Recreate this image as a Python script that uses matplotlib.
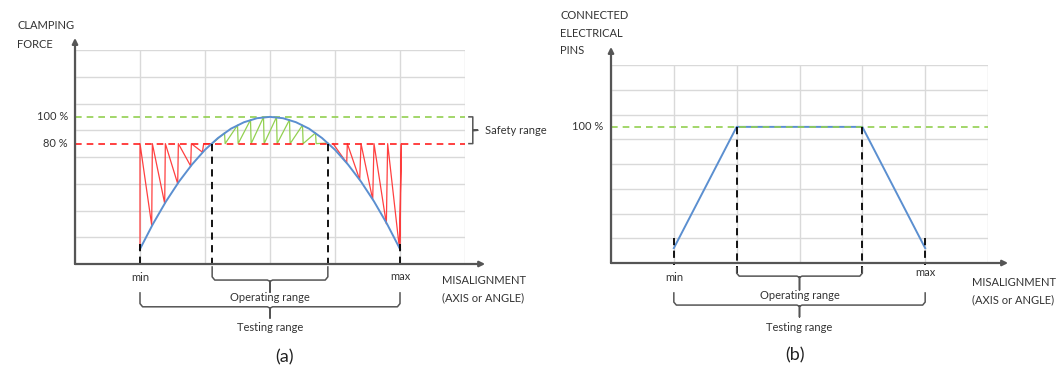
import numpy as np
import matplotlib
matplotlib.use("Agg")
import matplotlib.pyplot as plt

plt.rcParams["font.family"] = ["Lato", "DejaVu Sans"]

TXT = "#333333"
AX = "#555555"
GRID = "#d9d9d9"
BLUE = "#5b8fd0"
RED = "#ff2b2b"
GREEN = "#92d050"
FS = 8

# ---- panel (a): clamping force vs misalignment ----
curve_x = [1.0, 1.2, 1.4, 1.6, 1.8, 2.0, 2.2, 2.4, 2.6, 2.8, 3.0,
           3.2, 3.4, 3.6, 3.8, 4.0, 4.2, 4.4, 4.6, 4.8, 5.0]
curve_y = [0.56, 1.50, 2.34, 3.08, 3.72, 4.27, 4.71, 5.06, 5.30, 5.45, 5.50,
           5.45, 5.30, 5.06, 4.71, 4.27, 3.72, 3.08, 2.34, 1.50, 0.56]

red_left_x = [1.0, 1.0, 1.18, 1.19, 1.38, 1.39, 1.58, 1.59, 1.78, 1.79, 1.96, 1.98, 2.11]
red_left_y = [0.56, 4.5, 1.45, 4.5, 2.26, 4.5, 3.0, 4.5, 3.66, 4.5, 4.18, 4.5, 4.5]
red_right_x = [3.97, 4.18, 4.19, 4.38, 4.40, 4.58, 4.60, 4.79, 4.81, 4.99, 5.02, 5.0]
red_right_y = [4.5, 3.78, 4.5, 3.15, 4.5, 2.41, 4.5, 1.5, 4.5, 0.6, 4.5, 0.56]

green_x = [2.11, 2.3, 2.31, 2.5, 2.51, 2.7, 2.71, 2.9, 2.91, 3.1, 3.11, 3.3, 3.31,
           3.5, 3.51, 3.7, 3.71, 3.89]
green_y = [4.5, 4.9, 4.5, 5.19, 4.5, 5.39, 4.5, 5.49, 4.5, 5.49, 4.5, 5.39, 4.5,
           5.19, 4.5, 4.9, 4.5, 4.52]

level_100 = 5.5
level_80 = 4.5
a_min, a_max = 1.0, 5.0
a_op = (2.11, 3.89)

# ---- panel (b): connected electrical pins ----
pins_x = [1.0, 2.0, 4.0, 5.0]
pins_y = [0.6, 5.5, 5.5, 0.6]
b_min, b_max = 1.0, 5.0
b_op = (2.0, 4.0)

fig = plt.figure(figsize=(10.62, 3.69), dpi=100)
axa = fig.add_axes([75 / 1062, 105 / 369, 390 / 1062, 214 / 369])
axb = fig.add_axes([611 / 1062, 106 / 369, 377 / 1062, 198 / 369])


def base(ax):
    ax.set_xlim(0, 6)
    ax.set_ylim(0, 8)
    ax.set_xticks(range(7))
    ax.set_yticks(range(9))
    ax.tick_params(length=0, labelbottom=False, labelleft=False)
    ax.grid(True, color=GRID, lw=1.0)
    for s in ax.spines.values():
        s.set_visible(False)
    ax.set_axisbelow(True)


def arrows(ax, xend, yend):
    ax.annotate("", xy=(xend, 0), xytext=(0, 0), annotation_clip=False,
                arrowprops=dict(arrowstyle="-|>", color=AX, lw=1.6,
                                mutation_scale=8, shrinkA=0, shrinkB=0))
    ax.annotate("", xy=(0, yend), xytext=(0, 0), annotation_clip=False,
                arrowprops=dict(arrowstyle="-|>", color=AX, lw=1.6,
                                mutation_scale=8, shrinkA=0, shrinkB=0))


def brace(ax, x1, x2, y0, y1, y2, r=0.04):
    xm = (x1 + x2) / 2
    ax.plot([x1, x1, x1 + r, xm - r, xm, xm, xm, xm + r, x2 - r, x2, x2],
            [y0, y1 + 0.12, y1, y1, y1 - 0.05, y2, y1 - 0.05, y1, y1, y1 + 0.12, y0],
            color=AX, lw=1.1, clip_on=False, solid_joinstyle="round")


def vdash(ax, x, y_top, y_bot):
    ax.plot([x, x], [y_top, y_bot], color="black", lw=1.3, ls=(0, (4, 3)), clip_on=False)


# panel (a)
base(axa)
axa.plot(red_left_x, red_left_y, color=RED, lw=0.9, alpha=0.9)
axa.plot(red_right_x, red_right_y, color=RED, lw=0.9, alpha=0.9)
axa.plot(green_x, green_y, color=GREEN, lw=0.9)
axa.plot([0, 6], [level_100, level_100], color=GREEN, lw=1.2, ls=(0, (4, 3)))
axa.plot([0, 6], [level_80, level_80], color="#ff2020", lw=1.2, ls=(0, (4, 3)))
axa.plot(curve_x, curve_y, color=BLUE, lw=1.4)
for x in a_op:
    vdash(axa, x, level_80, -0.11)
for x in (a_min, a_max):
    vdash(axa, x, 0.75, -0.1)
arrows(axa, 6.31, 8.45)

axa.text(-0.11, level_100, "100 %", ha="right", va="center", fontsize=FS, color=TXT)
axa.text(-0.11, level_80, "80 %", ha="right", va="center", fontsize=FS, color=TXT)
axa.text(-0.89, 8.9, "CLAMPING", ha="left", va="center", fontsize=FS, color=TXT)
axa.text(-0.89, 8.22, "FORCE", ha="left", va="center", fontsize=FS, color=TXT)
axa.text(a_min, -0.49, "min", ha="center", va="center", fontsize=FS, color=TXT)
axa.text(a_max, -0.45, "max", ha="center", va="center", fontsize=FS, color=TXT)
axa.text(5.65, -0.6, "MISALIGNMENT", ha="left", va="center", fontsize=FS, color=TXT)
axa.text(5.65, -1.27, "(AXIS or ANGLE)", ha="left", va="center", fontsize=FS, color=TXT)

brace(axa, a_op[0], a_op[1], -0.11, -0.6, -1.05)
axa.text(3.0, -1.27, "Operating range", ha="center", va="center", fontsize=FS, color=TXT)
brace(axa, a_min, a_max, -1.08, -1.6, -2.02)
axa.text(3.0, -2.36, "Testing range", ha="center", va="center", fontsize=FS, color=TXT)
axa.text(3.23, -3.48, "(a)", ha="center", va="center", fontsize=13, color="#222222")

# safety range brace (vertical)
sx = 6.12
axa.plot([6.06, sx, sx, 6.2, sx, sx, 6.06],
         [level_100, level_100, 5.02, 5.0, 4.98, level_80, level_80],
         color=AX, lw=1.1, clip_on=False)
axa.text(6.31, 5.0, "Safety range", ha="left", va="center", fontsize=FS, color=TXT)

# panel (b)
base(axb)
axb.plot(pins_x, pins_y, color=BLUE, lw=1.4)
axb.plot([0, 6], [level_100, level_100], color=GREEN, lw=1.2, ls=(0, (4, 3)))
for x in b_op:
    vdash(axb, x, level_100, -0.45)
for x in (b_min, b_max):
    vdash(axb, x, 1.0, -0.1)
arrows(axb, 6.32, 8.73)

axb.text(-0.13, level_100, "100 %", ha="right", va="center", fontsize=FS, color=TXT)
axb.text(-0.81, 10.02, "CONNECTED", ha="left", va="center", fontsize=FS, color=TXT)
axb.text(-0.81, 9.29, "ELECTRICAL", ha="left", va="center", fontsize=FS, color=TXT)
axb.text(-0.81, 8.57, "PINS", ha="left", va="center", fontsize=FS, color=TXT)
axb.text(b_min, -0.57, "min", ha="center", va="center", fontsize=FS, color=TXT)
axb.text(b_max, -0.4, "max", ha="center", va="center", fontsize=FS, color=TXT)
axb.text(5.75, -0.77, "MISALIGNMENT", ha="left", va="center", fontsize=FS, color=TXT)
axb.text(5.75, -1.5, "(AXIS or ANGLE)", ha="left", va="center", fontsize=FS, color=TXT)

brace(axb, b_op[0], b_op[1], -0.2, -0.53, -1.09)
axb.text(3.0, -1.33, "Operating range", ha="center", va="center", fontsize=FS, color=TXT)
brace(axb, b_min, b_max, -1.21, -1.7, -2.18)
axb.text(3.0, -2.59, "Testing range", ha="center", va="center", fontsize=FS, color=TXT)
axb.text(2.93, -3.72, "(b)", ha="center", va="center", fontsize=13, color="#222222")

fig.savefig("out.png", dpi=100)
